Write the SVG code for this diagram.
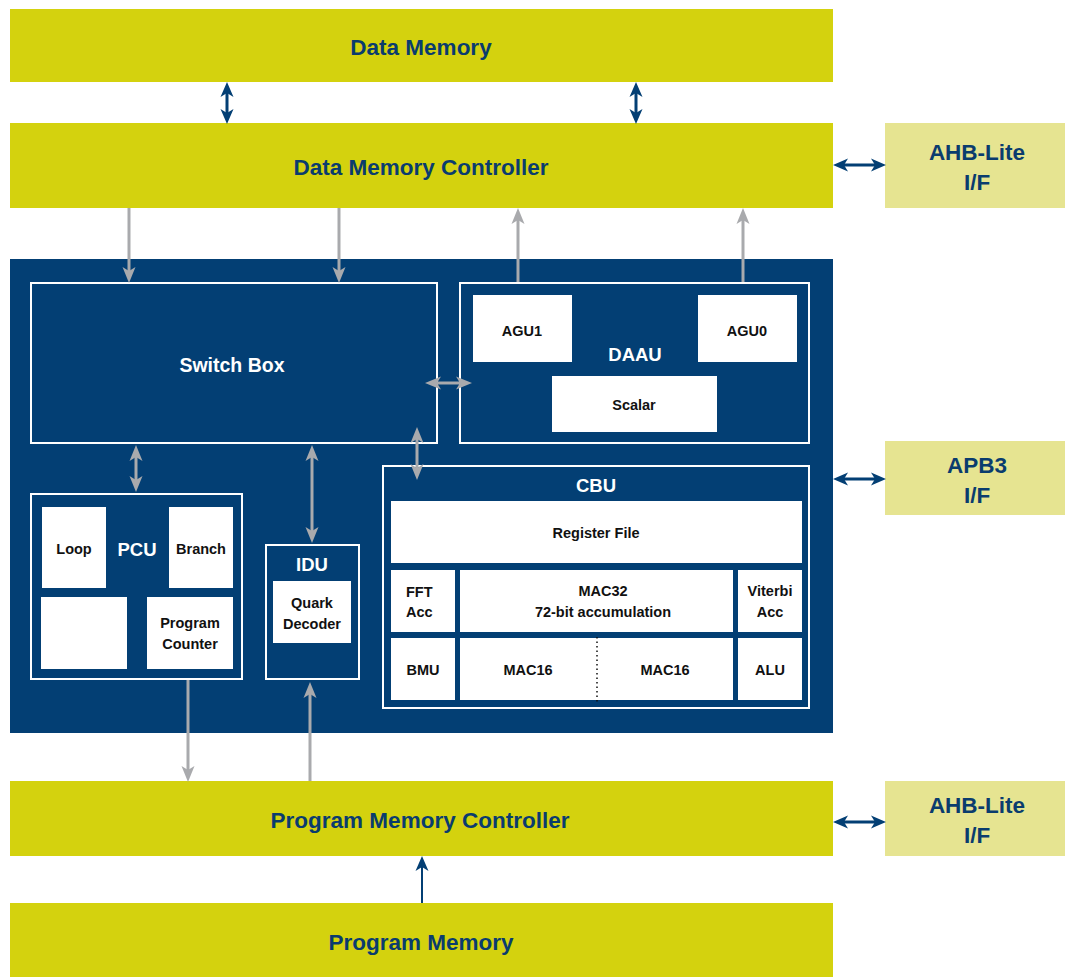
<svg xmlns="http://www.w3.org/2000/svg" width="1065" height="977" viewBox="0 0 1065 977">
<style>
text{font-family:"Liberation Sans",Arial,sans-serif;font-weight:bold;text-anchor:middle}
.ylw{fill:#d4d20e}
.lyl{fill:#e6e491}
.navy{fill:#033f74}
.box{fill:none;stroke:#ffffff;stroke-width:2}
.wb{fill:#ffffff}
.tn{fill:#0a3c6e;font-size:22.5px}
.tw{fill:#ffffff}
.tb{fill:#111111;font-size:14.5px}
.g{stroke:#a9aaad;stroke-width:3;fill:none}
.d{stroke:#033f74;stroke-width:3;fill:none}
.d2{stroke:#033f74;stroke-width:2;fill:none}
</style>
<defs>
<marker id="ag" viewBox="-16 -7 17 14" refX="-9" refY="0" markerWidth="17" markerHeight="14" markerUnits="userSpaceOnUse" orient="auto-start-reverse">
<path d="M0,0 L-16,-6.5 L-12,0 L-16,6.5 Z" fill="#a9aaad"/>
</marker>
<marker id="ad" viewBox="-16 -7 17 14" refX="-9" refY="0" markerWidth="17" markerHeight="14" markerUnits="userSpaceOnUse" orient="auto-start-reverse">
<path d="M0,0 L-15,-6.5 L-11,0 L-15,6.5 Z" fill="#033f74"/>
</marker>
</defs>

<g id="data-memory">
<rect class="ylw" x="10" y="9" width="823" height="73"/>
<text class="tn" x="421" y="55">Data Memory</text>
</g>
<g id="data-memory-controller">
<rect class="ylw" x="10" y="123" width="823" height="85"/>
<text class="tn" x="421" y="175">Data Memory Controller</text>
</g>
<g id="ahb-lite-top">
<rect class="lyl" x="885" y="123" width="180" height="85"/>
<text class="tn" x="977" y="160">AHB-Lite</text>
<text class="tn" x="977" y="190">I/F</text>
</g>
<g id="apb3">
<rect class="lyl" x="885" y="441" width="180" height="74"/>
<text class="tn" x="977" y="473">APB3</text>
<text class="tn" x="977" y="503">I/F</text>
</g>
<g id="program-memory-controller">
<rect class="ylw" x="10" y="781" width="823" height="75"/>
<text class="tn" x="420" y="828">Program Memory Controller</text>
</g>
<g id="ahb-lite-bottom">
<rect class="lyl" x="885" y="781" width="180" height="75"/>
<text class="tn" x="977" y="813">AHB-Lite</text>
<text class="tn" x="977" y="843">I/F</text>
</g>
<g id="program-memory">
<rect class="ylw" x="10" y="903" width="823" height="74"/>
<text class="tn" x="421" y="950">Program Memory</text>
</g>

<g id="core">
<rect class="navy" x="10" y="259" width="823" height="474"/>
</g>

<g id="switch-box">
<rect class="box" x="31" y="283" width="406" height="160"/>
<text class="tw" x="232" y="372" font-size="19.5">Switch Box</text>
</g>

<g id="daau">
<rect class="box" x="460" y="283" width="349" height="160"/>
<text class="tw" x="635" y="361" font-size="18.5">DAAU</text>
<g id="agu1"><rect class="wb" x="473" y="295" width="99" height="67"/><text class="tb" x="522" y="336">AGU1</text></g>
<g id="agu0"><rect class="wb" x="698" y="295" width="99" height="67"/><text class="tb" x="747" y="336">AGU0</text></g>
<g id="scalar"><rect class="wb" x="552" y="376" width="165" height="56"/><text class="tb" x="634" y="410">Scalar</text></g>
</g>

<g id="pcu">
<rect class="box" x="31" y="494" width="211" height="185"/>
<text class="tw" x="137" y="556" font-size="18.5">PCU</text>
<g id="loop"><rect class="wb" x="42" y="507" width="64" height="81"/><text class="tb" x="74" y="554">Loop</text></g>
<g id="branch"><rect class="wb" x="169" y="507" width="64" height="81"/><text class="tb" x="201" y="554">Branch</text></g>
<g id="pcu-blank"><rect class="wb" x="41" y="597" width="86" height="72"/></g>
<g id="program-counter"><rect class="wb" x="147" y="597" width="86" height="72"/><text class="tb" x="190" y="628">Program</text><text class="tb" x="190" y="649">Counter</text></g>
</g>

<g id="idu">
<rect class="box" x="266" y="545" width="93" height="134"/>
<text class="tw" x="312" y="571" font-size="18.5">IDU</text>
<g id="quark-decoder"><rect class="wb" x="273" y="581" width="78" height="62"/><text class="tb" x="312" y="608">Quark</text><text class="tb" x="312" y="629">Decoder</text></g>
</g>

<g id="cbu">
<rect class="box" x="383" y="466" width="426" height="242"/>
<text class="tw" x="596" y="492" font-size="18.5">CBU</text>
<g id="register-file"><rect class="wb" x="391" y="501" width="411" height="62"/><text class="tb" x="596" y="538">Register File</text></g>
<g id="fft-acc"><rect class="wb" x="391" y="570" width="64" height="62"/><text class="tb" x="406" y="597" style="text-anchor:start">FFT</text><text class="tb" x="406" y="617" style="text-anchor:start">Acc</text></g>
<g id="mac32"><rect class="wb" x="460" y="570" width="273" height="62"/><text class="tb" x="603" y="596">MAC32</text><text class="tb" x="603" y="617">72-bit accumulation</text></g>
<g id="viterbi-acc"><rect class="wb" x="738" y="570" width="64" height="62"/><text class="tb" x="770" y="596">Viterbi</text><text class="tb" x="770" y="617">Acc</text></g>
<g id="bmu"><rect class="wb" x="391" y="638" width="64" height="62"/><text class="tb" x="423" y="675">BMU</text></g>
<g id="mac16"><rect class="wb" x="460" y="638" width="273" height="62"/><text class="tb" x="528" y="675">MAC16</text><text class="tb" x="665" y="675">MAC16</text>
<line x1="597" y1="637" x2="597" y2="703" stroke="#111" stroke-width="1.5" stroke-dasharray="1.5,3"/></g>
<g id="alu"><rect class="wb" x="738" y="638" width="64" height="62"/><text class="tb" x="770" y="675">ALU</text></g>
</g>

<g id="connectors">
<line class="d" x1="227" y1="91" x2="227" y2="115" marker-start="url(#ad)" marker-end="url(#ad)"/>
<line class="d" x1="636" y1="91" x2="636" y2="115" marker-start="url(#ad)" marker-end="url(#ad)"/>
<line class="d" x1="842" y1="165" x2="877" y2="165" marker-start="url(#ad)" marker-end="url(#ad)"/>
<line class="d" x1="842" y1="479" x2="877" y2="479" marker-start="url(#ad)" marker-end="url(#ad)"/>
<line class="d" x1="842" y1="822" x2="877" y2="822" marker-start="url(#ad)" marker-end="url(#ad)"/>
<line class="d2" x1="422" y1="903" x2="422" y2="865" marker-end="url(#ad)"/>

<line class="g" x1="129" y1="208" x2="129" y2="274" marker-end="url(#ag)"/>
<line class="g" x1="339" y1="208" x2="339" y2="274" marker-end="url(#ag)"/>
<line class="g" x1="518" y1="282" x2="518" y2="217" marker-end="url(#ag)"/>
<line class="g" x1="743" y1="282" x2="743" y2="217" marker-end="url(#ag)"/>
<line class="g" x1="434" y1="383" x2="463" y2="383" marker-start="url(#ag)" marker-end="url(#ag)"/>
<line class="g" x1="136" y1="454" x2="136" y2="483" marker-start="url(#ag)" marker-end="url(#ag)"/>
<line class="g" x1="312" y1="454" x2="312" y2="534" marker-start="url(#ag)" marker-end="url(#ag)"/>
<line class="g" x1="417" y1="436" x2="417" y2="471" marker-start="url(#ag)" marker-end="url(#ag)"/>
<line class="g" x1="188" y1="680" x2="188" y2="773" marker-end="url(#ag)"/>
<line class="g" x1="310" y1="781" x2="310" y2="691" marker-end="url(#ag)"/>
</g>
</svg>
